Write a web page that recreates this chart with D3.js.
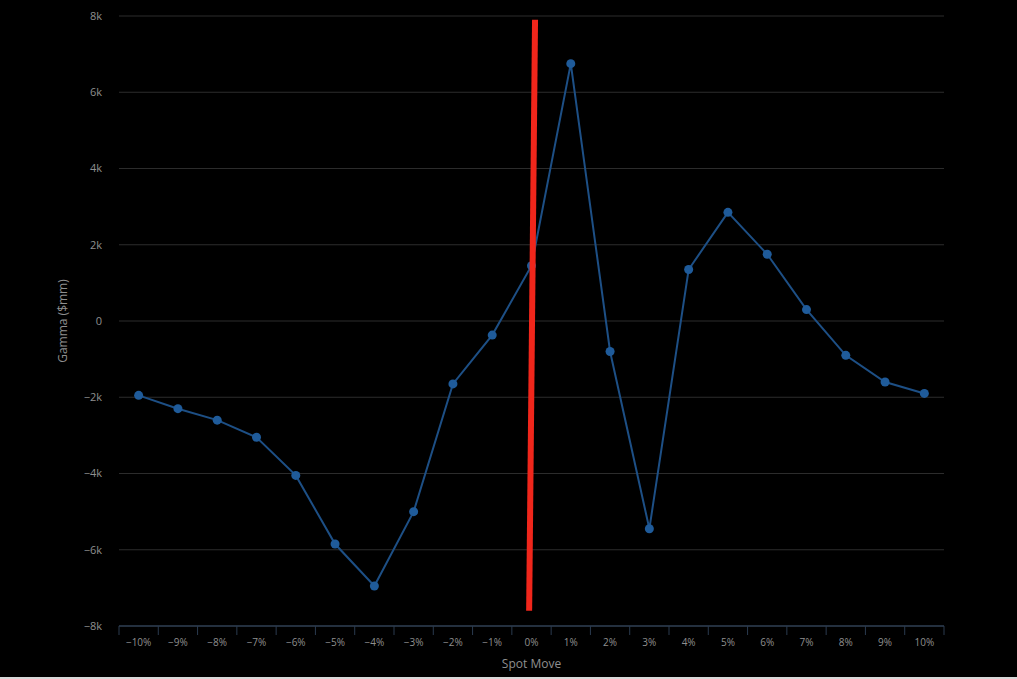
<!DOCTYPE html>
<html>
<head>
<meta charset="utf-8">
<script src="https://cdn.jsdelivr.net/npm/d3@7"></script>
<style>
  html, body { margin: 0; padding: 0; background: #000; }
  body { width: 1017px; height: 677px; border-bottom: 2px solid #d8d8d8; overflow: hidden; }
  text { font-family: "Open Sans", "DejaVu Sans", sans-serif; }
</style>
</head>
<body>
<script>
// spot move categories and gamma values ($mm)
var moves = ["-10%", "-9%", "-8%", "-7%", "-6%", "-5%", "-4%", "-3%", "-2%", "-1%", "0%",
             "1%", "2%", "3%", "4%", "5%", "6%", "7%", "8%", "9%", "10%"];
var gamma = [-1950, -2300, -2600, -3050, -4050, -5850, -6950, -5000, -1650, -370, 1450,
             6750, -800, -5450, 1350, 2850, 1750, 300, -900, -1600, -1900];
var yTicks = [-8000, -6000, -4000, -2000, 0, 2000, 4000, 6000, 8000];

// hand drawn red marker near 0% (offset in band steps, gamma value)
var markerOffset = [0.09, -0.06];
var markerGamma = [7900, -7600];

var width = 1017, height = 677;
var margin = {left: 119, right: 73, top: 16, bottom: 51};

var svg = d3.select("body").append("svg")
    .attr("width", width)
    .attr("height", height);

var x = d3.scaleBand()
    .domain(moves)
    .range([margin.left, width - margin.right]);

var y = d3.scaleLinear()
    .domain([-8000, 8000])
    .range([height - margin.bottom, margin.top]);

function fmt(v) {
    if (v === 0) return "0";
    return (v < 0 ? "\u2212" : "") + Math.abs(v / 1000) + "k";
}

// gridlines
svg.append("g")
    .selectAll("line")
    .data(yTicks)
    .enter().append("line")
    .attr("x1", margin.left)
    .attr("x2", width - margin.right)
    .attr("y1", function(d) { return y(d); })
    .attr("y2", function(d) { return y(d); })
    .attr("stroke", "#2c2c2c")
    .attr("stroke-width", 1);

// y labels
svg.append("g")
    .selectAll("text")
    .data(yTicks)
    .enter().append("text")
    .attr("x", 102)
    .attr("y", function(d) { return y(d); })
    .attr("dy", "0.35em")
    .attr("text-anchor", "end")
    .attr("fill", "#8f8f8f")
    .style("font-size", "11px")
    .text(fmt);

// x axis
var xAxis = svg.append("g")
    .attr("transform", "translate(0," + (height - margin.bottom) + ")");

xAxis.append("line")
    .attr("x1", margin.left)
    .attr("x2", width - margin.right)
    .attr("stroke", "#2a3a4e")
    .attr("stroke-width", 1.5);

var bounds = moves.map(function(d) { return x(d); }).concat([x(moves[moves.length - 1]) + x.bandwidth()]);
xAxis.selectAll(".tick")
    .data(bounds)
    .enter().append("line")
    .attr("x1", function(d) { return d; })
    .attr("x2", function(d) { return d; })
    .attr("y1", 0)
    .attr("y2", 9)
    .attr("stroke", "#2a3a4e")
    .attr("stroke-width", 1);

xAxis.selectAll(".lbl")
    .data(moves)
    .enter().append("text")
    .attr("x", function(d) { return x(d) + x.bandwidth() / 2; })
    .attr("y", 20)
    .attr("text-anchor", "middle")
    .attr("fill", "#8f8f8f")
    .style("font-size", "10px")
    .text(function(d) { return d.replace("-", "\u2212"); });

// axis titles
svg.append("text")
    .attr("x", x("0%") + x.bandwidth() / 2)
    .attr("y", 668)
    .attr("text-anchor", "middle")
    .attr("fill", "#8f8f8f")
    .style("font-size", "12px")
    .text("Spot Move");

svg.append("text")
    .attr("transform", "translate(67," + y(0) + ") rotate(-90)")
    .attr("text-anchor", "middle")
    .attr("fill", "#8f8f8f")
    .style("font-size", "12px")
    .text("Gamma ($mm)");

// series
var line = d3.line()
    .x(function(d, i) { return x(moves[i]) + x.bandwidth() / 2; })
    .y(function(d) { return y(d); });

svg.append("path")
    .datum(gamma)
    .attr("d", line)
    .attr("fill", "none")
    .attr("stroke", "#1d4f85")
    .attr("stroke-width", 2);

svg.selectAll(".pt")
    .data(gamma)
    .enter().append("circle")
    .attr("cx", function(d, i) { return x(moves[i]) + x.bandwidth() / 2; })
    .attr("cy", function(d) { return y(d); })
    .attr("r", 4.5)
    .attr("fill", "#1f5b9a");

// red marker
var zeroX = x("0%") + x.bandwidth() / 2;
svg.append("line")
    .attr("x1", zeroX + markerOffset[0] * x.step())
    .attr("y1", y(markerGamma[0]))
    .attr("x2", zeroX + markerOffset[1] * x.step())
    .attr("y2", y(markerGamma[1]))
    .attr("stroke", "#f0261b")
    .attr("stroke-width", 6);
</script>
</body>
</html>
